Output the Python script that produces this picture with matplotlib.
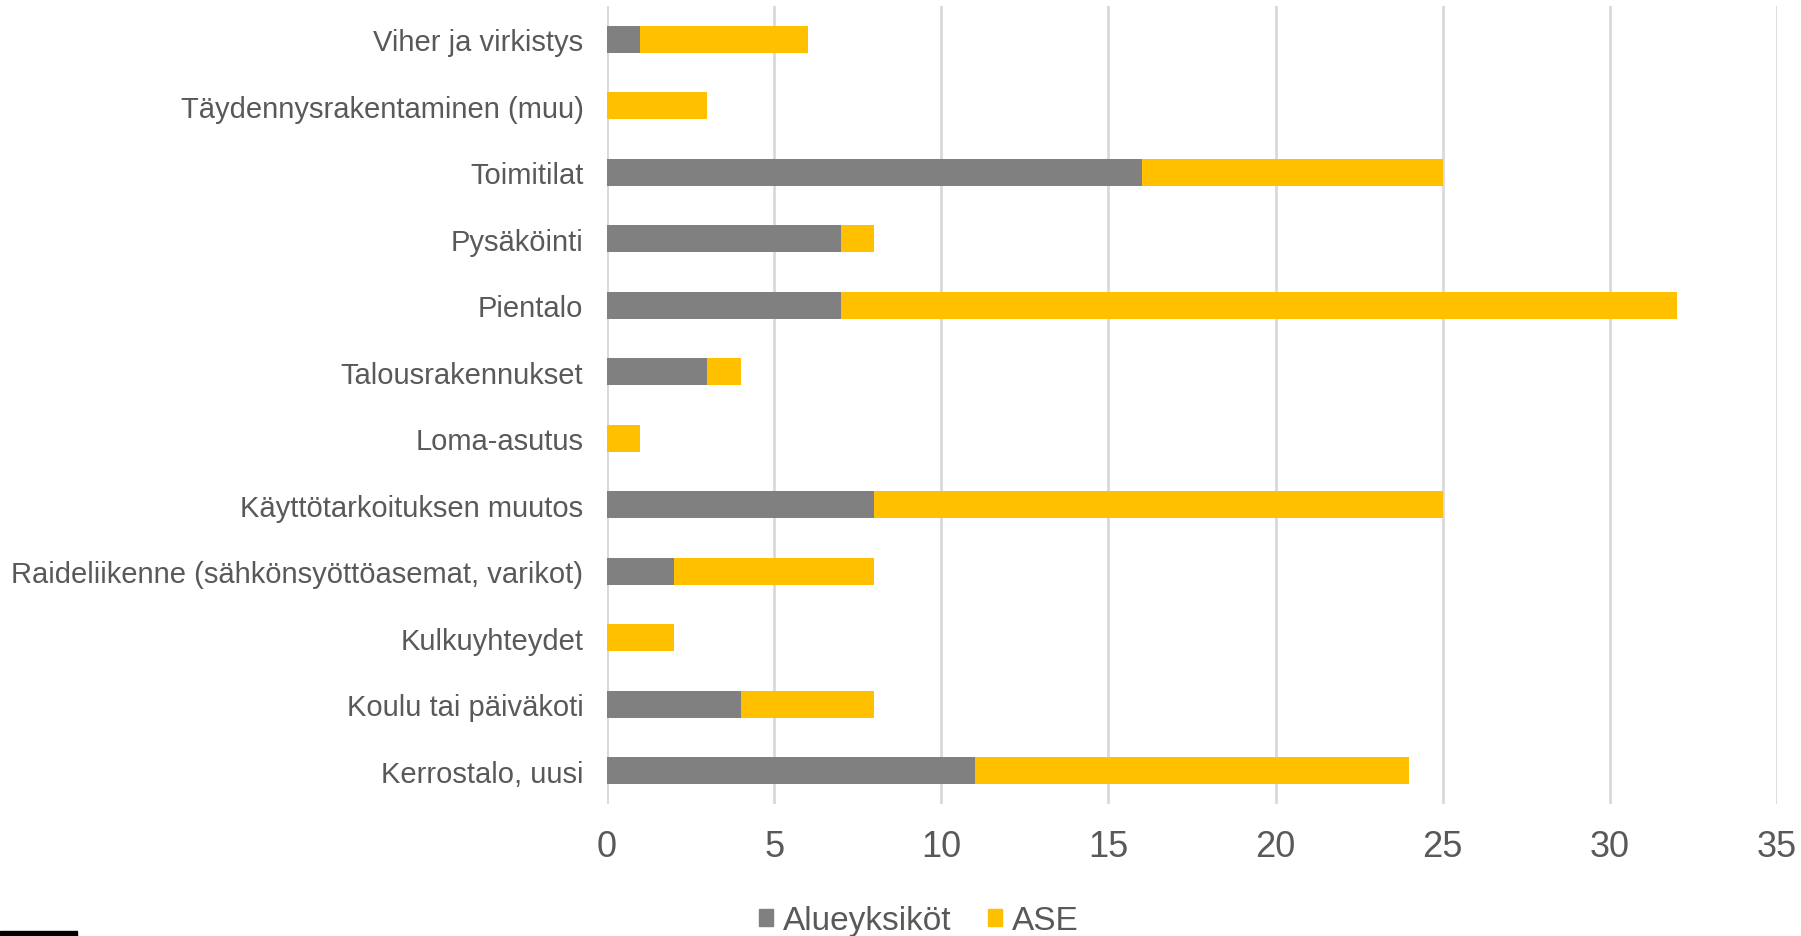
import matplotlib
matplotlib.use("Agg")
from matplotlib import pyplot as plt
from matplotlib.patches import Rectangle, Patch

# categories from bottom to top
categories = [
    "Kerrostalo, uusi",
    "Koulu tai päiväkoti",
    "Kulkuyhteydet",
    "Raideliikenne (sähkönsyöttöasemat, varikot)",
    "Käyttötarkoituksen muutos",
    "Loma-asutus",
    "Talousrakennukset",
    "Pientalo",
    "Pysäköinti",
    "Toimitilat",
    "Täydennysrakentaminen (muu)",
    "Viher ja virkistys",
]
alueyksikot = [11, 4, 0, 2, 8, 0, 3, 7, 7, 16, 0, 1]
ase = [13, 4, 2, 6, 17, 1, 1, 25, 1, 9, 3, 5]
xticks = [0, 5, 10, 15, 20, 25, 30, 35]

gray = "#808080"
yellow = "#FFC000"
text_col = "#595959"

plt.rcParams['font.family'] = ['Liberation Sans', 'DejaVu Sans']

fig = plt.figure(figsize=(18.01, 9.37), dpi=100)
ax = fig.add_axes([607/1801, 1 - 805/937, (1777 - 607)/1801, (805 - 7)/937])

y = list(range(len(categories)))
ax.barh(y, alueyksikot, height=0.4, color=gray, zorder=3)
ax.barh(y, ase, left=alueyksikot, height=0.4, color=yellow, zorder=3)

ax.set_xlim(0, 35)
ax.set_ylim(-0.5, len(categories) - 0.5)
ax.set_xticks(xticks)
ax.set_yticks(y)
ax.set_yticklabels(categories)
ax.tick_params(axis='x', length=0, pad=18, labelsize=26, labelcolor=text_col)
ax.tick_params(axis='y', length=0, pad=17, labelsize=21, labelcolor=text_col)
ax.grid(axis='x', color="#D9D9D9", linewidth=2, zorder=0)
for s in ax.spines.values():
    s.set_visible(False)
ax.axvline(0, color="#D9D9D9", linewidth=2, zorder=1)

handles = [Patch(color=gray, label="Alueyksiköt"), Patch(color=yellow, label="ASE")]
fig.legend(handles=handles, loc='center', bbox_to_anchor=(919/1801, 1 - 922/937),
           ncol=2, frameon=False, fontsize=24, labelcolor=text_col,
           handlelength=0.42, handleheight=0.42, handletextpad=0.3, columnspacing=1.1)

# small black mark in the bottom-left corner
fig.patches.append(Rectangle((0, 0), 77/1801, 5/937, transform=fig.transFigure,
                             color="black", figure=fig))

fig.savefig("out.png", dpi=100)
